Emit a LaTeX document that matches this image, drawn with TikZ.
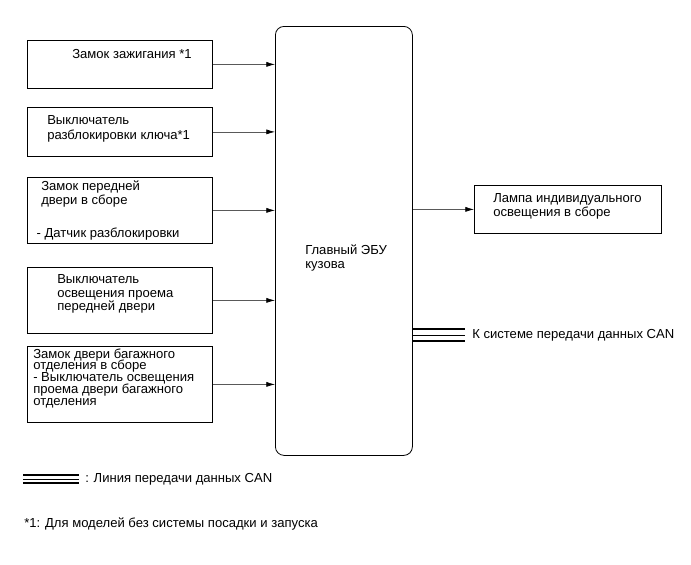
\documentclass[tikz,border=0pt]{standalone}
\usepackage{fontspec}
\setmainfont{Liberation Sans}
\usetikzlibrary{arrows.meta}
\newcommand{\tightlines}{\lineskiplimit=-20pt\relax}
\begin{document}
\begin{tikzpicture}[x=0.75pt, y=-0.75pt,
    box/.style={draw, line width=0.6pt, anchor=north west, inner sep=0pt},
    txt/.style={anchor=north west, inner sep=0pt, align=left, font=\fontsize{9.8}{10.5}\selectfont},
    arr/.style={-{Latex[length=6.5pt,width=3.8pt,black]}, line width=0.5pt, black!65},
    canbus/.style={line width=2.2pt},
    canthin/.style={line width=0.7pt}]
    \useasboundingbox (0,0) rectangle (691,564);

    % 主ECU
    \node[box, rounded corners=6.5pt, minimum width=137*0.75pt, minimum height=429*0.75pt] (ecu) at (275,26) {};
    \node[txt] (ecutxt) at (305,244.3) {Главный ЭБУ\\кузова};

    % 输入开关
    \node[box, minimum width=185*0.75pt, minimum height=48*0.75pt] (b1) at (27,40) {};
    \node[txt] (t1) at (72,49.3) {Замок зажигания *1};

    \node[box, minimum width=185*0.75pt, minimum height=49*0.75pt] (b2) at (27,107) {};
    \node[txt, font=\fontsize{9.8}{11.2}\selectfont] (t2) at (47,115.3) {Выключатель\\разблокировки ключа*1};

    \node[box, minimum width=185*0.75pt, minimum height=66*0.75pt] (b3) at (27,177) {};
    \node[txt] (t3) at (41,180.3) {Замок передней\\двери в сборе\\[14.25pt]\hspace*{-3.5pt}- Датчик разблокировки};

    \node[box, minimum width=185*0.75pt, minimum height=66*0.75pt] (b4) at (27,267) {};
    \node[txt, font=\fontsize{9.8}{10.1}\selectfont\tightlines] (t4) at (57,274.3) {Выключатель\\освещения проема\\передней двери};

    \node[box, minimum width=185*0.75pt, minimum height=76*0.75pt] (b5) at (27,346) {};
    \node[txt, font=\fontsize{9.8}{8.8}\selectfont\tightlines] (t5) at (33,348.3) {Замок двери багажного\\отделения в сборе\\- Выключатель освещения\\проема двери багажного\\отделения};

    % 输出
    \node[box, minimum width=187*0.75pt, minimum height=48*0.75pt] (lamp) at (474,185) {};
    \node[txt] (t6) at (493,193.3) {Лампа индивидуального\\освещения в сборе};

    % 箭头
    \foreach \b in {b1,b2,b3,b4,b5}
        \draw[arr] (\b.east) -- (\b.east -| ecu.west);
    \draw[arr] (lamp.west -| ecu.east) -- (lamp.west);

    % CAN
    \coordinate (canend) at (465,335);
    \draw[canbus] ([yshift=4.5pt]canend -| ecu.east) -- ([yshift=4.5pt]canend);
    \draw[canthin] (canend -| ecu.east) -- (canend);
    \draw[canbus] ([yshift=-4.5pt]canend -| ecu.east) -- ([yshift=-4.5pt]canend);
    \node[txt, anchor=west] (cantxt) at (472,335) {К системе передачи данных CAN};

    % 图例
    \draw[canbus, line width=1.8pt] (23,475) -- (79,475);
    \draw[canthin] (23,479) -- (79,479);
    \draw[canbus, line width=1.8pt] (23,483) -- (79,483);
    \node[txt, anchor=west] (legend) at (85,479.5) {: Линия передачи данных CAN};
    \node[txt, anchor=west] (note) at (24,524) {*1: Для моделей без системы посадки и запуска};
\end{tikzpicture}
\end{document}
